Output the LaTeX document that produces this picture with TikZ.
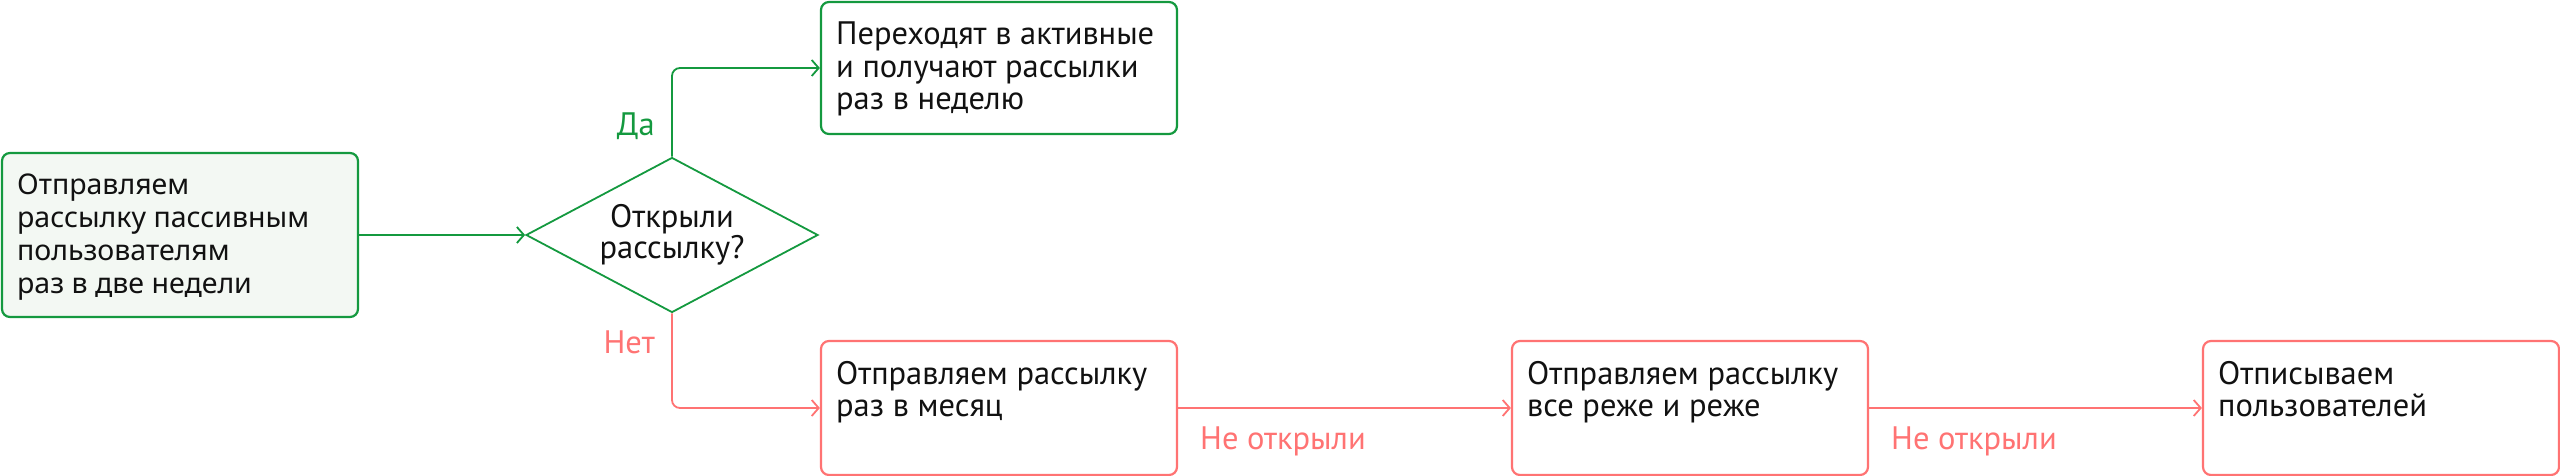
\documentclass[tikz,border=0pt]{standalone}
\usepackage{fontspec}
\setmainfont{PT Sans}
\newfontfamily\widefont{Noto Sans}
\usetikzlibrary{shapes.geometric,arrows.meta,calc}
\definecolor{grn}{HTML}{14993F}
\definecolor{rd}{HTML}{FF7373}
\definecolor{pale}{HTML}{F3F8F3}
\definecolor{ink}{HTML}{111111}
\begin{document}
\begin{tikzpicture}[x=1pt,y=-1pt,
  box/.style={draw, rectangle, rounded corners=8pt, line width=2.2pt, minimum width=356pt, inner sep=0pt},
  gbox/.style={box, draw=grn},
  rbox/.style={box, draw=rd},
  txt/.style={anchor=north west, inner sep=0pt, align=left, text=ink, font=\fontsize{32.5}{32.5}\selectfont},
  wtxt/.style={txt, font=\widefont\fontsize{28.5}{33}\selectfont},
  lbl/.style={inner sep=0pt, font=\fontsize{32.5}{32}\selectfont},
  arr/.style={line width=1.8pt, -{Straight Barb[length=7pt,width=16pt,line width=1.8pt]}},
  garr/.style={arr, draw=grn},
  rarr/.style={arr, draw=rd},
]
\useasboundingbox (0,0) rectangle (2560,476);
\node[gbox, fill=pale, minimum height=164pt] (start) at (180,235) {};
\node[draw=grn, line width=1.8pt, diamond, aspect=1.88, minimum width=292pt, minimum height=155pt, inner sep=0pt,
      align=center, text=ink, font=\fontsize{32.5}{31}\selectfont] (dia) at (672,235) {Открыли\\рассылку?};
\node[gbox, minimum height=132pt] (top) at (999,68) {};
\node[rbox, minimum height=134pt] (b2) at (999,408) {};
\node[rbox, minimum height=134pt] (b3) at (1690,408) {};
\node[rbox, minimum height=134pt] (b4) at (2381,408) {};

\node[wtxt] (t0) at ($(start.north west)+(16,22)$) {Отправляем\\рассылку пассивным\\пользователям\\раз в две недели};
\node[txt] (t1) at ($(top.north west)+(16,21)$) {Переходят в активные\\и получают рассылки\\раз в неделю};
\node[txt] (t2) at ($(b2.north west)+(16,21)$) {Отправляем рассылку\\раз в месяц};
\node[txt] (t3) at ($(b3.north west)+(16,21)$) {Отправляем рассылку\\все реже и реже};
\node[txt] (t4) at ($(b4.north west)+(16,21)$) {Отписываем\\пользователей};

\draw[garr] (start.east) -- (dia.west);
\draw[garr, rounded corners=8pt] (dia.north) |- (top.west);
\draw[rarr, rounded corners=8pt] (dia.south) |- (b2.west);
\draw[rarr] (b2.east) -- (b3.west);
\draw[rarr] (b3.east) -- (b4.west);

\node[lbl, text=grn, anchor=east] (yes) at (655,126) {Да};
\node[lbl, text=rd, anchor=east] (no) at (655,342) {Нет};
\node[lbl, text=rd, anchor=west] (n1) at (1200,441) {Не открыли};
\node[lbl, text=rd, anchor=west] (n2) at (1891,441) {Не открыли};
\end{tikzpicture}
\end{document}
